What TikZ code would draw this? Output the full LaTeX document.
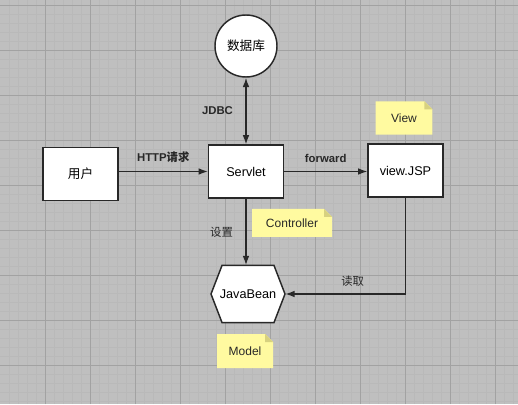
\documentclass[tikz,border=0pt]{standalone}
\usepackage{fontspec}
\setmainfont{Liberation Sans}
\newfontfamily\cjk{Noto Sans CJK SC}
\usetikzlibrary{arrows.meta}

\definecolor{paper}{RGB}{191,191,191}
\definecolor{gridmajor}{RGB}{162,162,162}
\definecolor{gridminor}{RGB}{185,185,185}
\definecolor{memoyellow}{RGB}{255,250,160}
\definecolor{memofold}{RGB}{215,209,128}
\definecolor{ink}{RGB}{40,40,40}

\tikzset{
  box/.style={draw=ink, line width=1.1pt, fill=white, minimum width=56pt, minimum height=39.5pt,
    inner sep=0pt, font=\fontsize{9.5}{11}\selectfont},
  store/.style={circle, draw=ink, line width=1.1pt, fill=white, minimum size=46.5pt,
    inner sep=0pt, font=\fontsize{9.5}{11}\selectfont},
  link/.style={draw=ink, line width=1pt, -{Latex[length=7pt,width=5pt]}},
  lbl/.style={font=\bfseries\fontsize{8.5}{10}\selectfont, text=ink},
  lblcjk/.style={font=\cjk\fontsize{8.5}{10}\selectfont, text=ink},
  memo/.style={inner sep=0pt, font=\fontsize{9}{11}\selectfont, text=ink,
    path picture={
      \fill[memoyellow] (path picture bounding box.south west) -- (path picture bounding box.north west)
        -- ([xshift=-6pt]path picture bounding box.north east) -- ([yshift=-6pt]path picture bounding box.north east)
        -- (path picture bounding box.south east) -- cycle;
      \fill[memofold] ([xshift=-6pt]path picture bounding box.north east) -- ([yshift=-6pt]path picture bounding box.north east)
        -- ([xshift=-6pt,yshift=-6pt]path picture bounding box.north east) -- cycle;
    }},
}

\begin{document}
\begin{tikzpicture}[x=0.75pt, y=0.75pt]
  % Draw the grid paper
  \useasboundingbox (0,0) rectangle (518,404);
  \fill[paper] (0,0) rectangle (518,404);
  \foreach \gx in {9,18,...,513} \draw[gridminor, line width=0.4pt] (\gx,0) -- (\gx,404);
  \foreach \gy in {3,12,...,399} \draw[gridminor, line width=0.4pt] (0,\gy) -- (518,\gy);
  \foreach \gx in {45,90,...,495} \draw[gridmajor, line width=0.6pt] (\gx,0) -- (\gx,404);
  \foreach \gy in {39,84,...,399} \draw[gridmajor, line width=0.6pt] (0,\gy) -- (518,\gy);

  % Draw the parts
  \node[store] (db) at (246,358) {\cjk 数据库};
  \node[box] (user) at (80.5,230) {\cjk 用户};
  \node[box] (servlet) at (246,232.5) {Servlet};
  \node[box] (viewjsp) at (405.5,233.5) {view.JSP};

  % Draw the JavaBean hexagon
  \coordinate (beanc) at (248,110);
  \draw[draw=ink, line width=1.1pt, fill=white] ([xshift=-27.75pt]beanc) -- ([xshift=-19.5pt,yshift=21.4pt]beanc)
    -- ([xshift=19.5pt,yshift=21.4pt]beanc) -- ([xshift=27.75pt]beanc)
    -- ([xshift=19.5pt,yshift=-21.4pt]beanc) -- ([xshift=-19.5pt,yshift=-21.4pt]beanc) -- cycle;
  \node[minimum width=55.5pt, minimum height=42.8pt, inner sep=0pt, font=\fontsize{9.5}{11}\selectfont] (bean) at (beanc) {JavaBean};

  % Draw the notes
  \node[memo, minimum width=60pt, minimum height=21pt] (ctrlnote) at (292,181) {Controller};
  \node[memo, minimum width=42.5pt, minimum height=25pt] (viewnote) at (404,286) {View};
  \node[memo, minimum width=42pt, minimum height=25.5pt] (modelnote) at (245,53) {Model};

  % Draw the connectors
  \draw[link] (user.east |- servlet.west) -- (servlet.west) node[midway, above=3pt, lbl] {HTTP{\cjk 请求}};
  \draw[link] (servlet.east) -- (viewjsp.west |- servlet.east) node[midway, above=3pt, lbl] {forward};
  \draw[link, {Latex[length=7pt,width=5pt]}-{Latex[length=7pt,width=5pt]}] (db.south) -- (servlet.north)
    node[midway, left=6pt, lbl] {JDBC};
  \draw[link] (servlet.south) -- (servlet.south |- bean.north) node[midway, left=6pt, lblcjk] {设置};
  \draw[link] (viewjsp.south) |- (bean.east) node[pos=0.72, above=2pt, lblcjk] {读取};
\end{tikzpicture}
\end{document}
